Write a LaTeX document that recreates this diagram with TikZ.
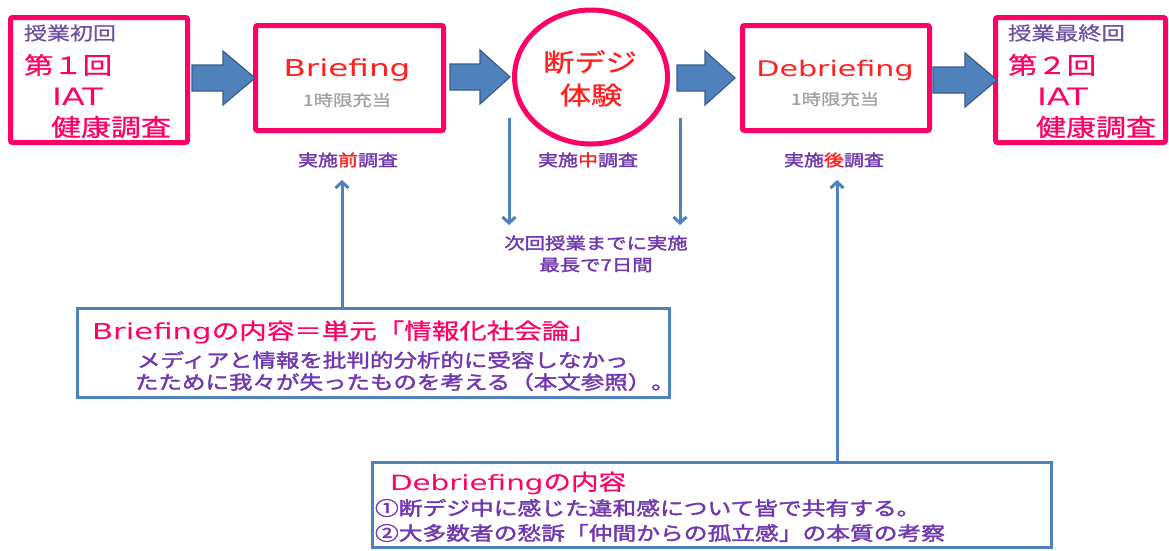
\documentclass[tikz,border=0pt]{standalone}
\usepackage{fontspec}
\usetikzlibrary{calc,arrows.meta,shapes.geometric}
\newfontfamily\jp{Noto Sans CJK JP}[FakeStretch=1.25,FakeBold=0.8]
\newfontfamily\jpb{Noto Sans CJK JP}[FakeStretch=1.25,FakeBold=2]
\newfontfamily\lat{DejaVu Sans}[FakeStretch=1.4]
\newcommand\fsz[1]{\fontsize{#1}{#1}\selectfont}
\definecolor{pinkb}{HTML}{FF0066}
\definecolor{redt}{HTML}{FF2020}
\definecolor{purp}{HTML}{7038B0}
\definecolor{purpg}{HTML}{7050A0}
\definecolor{grayt}{HTML}{A0A0A0}
\definecolor{blu}{HTML}{4F81BD}
\definecolor{bluo}{HTML}{385D8A}
\tikzset{
  pinkbox/.style={draw=pinkb, line width=5pt, rounded corners=2pt, fill=white, inner sep=0pt},
  bluebox/.style={draw=blu, line width=2.5pt, fill=white, inner sep=0pt},
  txt/.style={inner sep=0pt, outer sep=0pt},
  blockarrow/.style={fill=blu, draw=bluo, line width=1.2pt, line join=miter},
  thinarrow/.style={draw=blu, line width=3pt, -{Straight Barb[length=6pt,width=13pt]}},
}
% from, to, start offset, tip offset, head length
\newcommand\blockarr[5]{%
  \path[blockarrow] let \p1=(#1), \p2=(#2) in
    (\x1+#3pt,\y2+13pt) -- (\x2+#4pt-#5pt,\y2+13pt) -- (\x2+#4pt-#5pt,\y2+27pt)
    -- (\x2+#4pt,\y2) -- (\x2+#4pt-#5pt,\y2-27pt) -- (\x2+#4pt-#5pt,\y2-13pt)
    -- (\x1+#3pt,\y2-13pt) -- cycle;}
\begin{document}
\begin{tikzpicture}[x=1pt,y=-1pt]
\useasboundingbox (0,0) rectangle (1169,550);
\fill[white] (0,0) rectangle (1169,550);

% main boxes
\node[pinkbox, minimum width=177pt, minimum height=125pt] (b1) at (99,80) {};
\node[pinkbox, minimum width=188pt, minimum height=105pt] (b2) at (349.5,78) {};
\node[pinkbox, ellipse, minimum width=153pt, minimum height=134pt] (c) at (591,77) {};
\node[pinkbox, minimum width=187pt, minimum height=105pt] (b3) at (836,78) {};
\node[pinkbox, minimum width=170pt, minimum height=125pt] (b4) at (1080.5,80) {};

% block arrows
\blockarr{b1.east}{b2.west}{2}{2}{32}
\blockarr{b2.east}{c.west}{4}{-2}{30}
\blockarr{c.east}{b3.west}{7}{-5}{30}
\blockarr{b3.east}{b4.west}{1}{4}{32}

% box 1 text
\node[txt, anchor=west, text=purpg] (t1a) at (24,33) {\jp\fsz{18.4}授業初回};
\node[txt, anchor=west, text=pinkb] (t1b) at (24,65) {\jp\fsz{23.5}第１回};
\node[txt, anchor=west, text=pinkb] (t1c) at (52,97) {\lat\fsz{24}IAT};
\node[txt, anchor=west, text=pinkb] (t1d) at (51,127) {\jp\fsz{24}健康調査};

% box 2 text
\node[txt, anchor=base, text=redt] (t2a) at (347,76) {\lat\fsz{23.3}Briefing};
\node[txt, text=grayt] (t2b) at (347,100) {\jp\fsz{15.5}1時限充当};

% circle text
\node[txt, text=redt] (tca) at (590,62) {\jp\fsz{25}断デジ};
\node[txt, text=redt] (tcb) at (591,95) {\jp\fsz{25}体験};

% box 3 text
\node[txt, anchor=base, text=redt] (t3a) at (835,76) {\lat\fsz{21.5}Debriefing};
\node[txt, text=grayt] (t3b) at (835,99) {\jp\fsz{15.5}1時限充当};

% box 4 text
\node[txt, anchor=west, text=purpg] (t4a) at (1008,33) {\jp\fsz{18.7}授業最終回};
\node[txt, anchor=west, text=pinkb] (t4b) at (1008,65) {\jp\fsz{23.5}第２回};
\node[txt, anchor=west, text=pinkb] (t4c) at (1037,97) {\lat\fsz{24}IAT};
\node[txt, anchor=west, text=pinkb] (t4d) at (1036,127) {\jp\fsz{24}健康調査};

% survey labels
\node[txt, text=purp] (l1) at (348,160) {\jpb\fsz{16}実施{\color{redt}前}調査};
\node[txt, text=purp] (l2) at (588,160) {\jpb\fsz{16}実施{\color{redt}中}調査};
\node[txt, text=purp] (l3) at (834,160) {\jpb\fsz{16}実施{\color{redt}後}調査};

% middle note
\node[txt, text=purp] (m1) at (596,243) {\jpb\fsz{16.3}次回授業までに実施};
\node[txt, text=purp] (m2) at (596,265) {\jpb\fsz{16.3}最長で7日間};

% content boxes
\node[bluebox, minimum width=592pt, minimum height=89pt] (bA) at (373.5,353) {};
\node[bluebox, minimum width=679pt, minimum height=85pt] (bB) at (712,505) {};

\node[txt, anchor=west, text=pinkb] (a1) at (92,332) {\jp\fsz{22}{\lat\fsz{22}Briefing}の内容＝単元「情報化社会論」};
\node[txt, anchor=west, text=purp] (a2) at (137,360) {\jpb\fsz{18.8}メディアと情報を批判的分析的に受容しなかっ};
\node[txt, anchor=west, text=purp] (a3) at (135,382) {\jpb\fsz{18.8}たために我々が失ったものを考える（本文参照）。};

\node[txt, anchor=west, text=pinkb] (c1) at (390,483) {\jp\fsz{22}{\lat\fsz{21}Debriefing}の内容};
\node[txt, anchor=west, text=purp] (c2) at (375,508) {\jpb\fsz{19}①断デジ中に感じた違和感について皆で共有する。};
\node[txt, anchor=west, text=purp] (c3) at (375,533) {\jpb\fsz{19}②大多数者の愁訴「仲間からの孤立感」の本質の考察};

% thin arrows
\coordinate (u1) at (342,180);
\coordinate (u2) at (837,180);
\draw[thinarrow] (u1 |- bA.north) -- (u1);
\draw[thinarrow] (u2 |- bB.north) -- (u2);
\coordinate (d1s) at (509,118);
\coordinate (d1e) at (509,225);
\coordinate (d2s) at (680,118);
\coordinate (d2e) at (680,225);
\draw[thinarrow] (d1s) -- (d1e);
\draw[thinarrow] (d2s) -- (d2e);
\end{tikzpicture}
\end{document}
